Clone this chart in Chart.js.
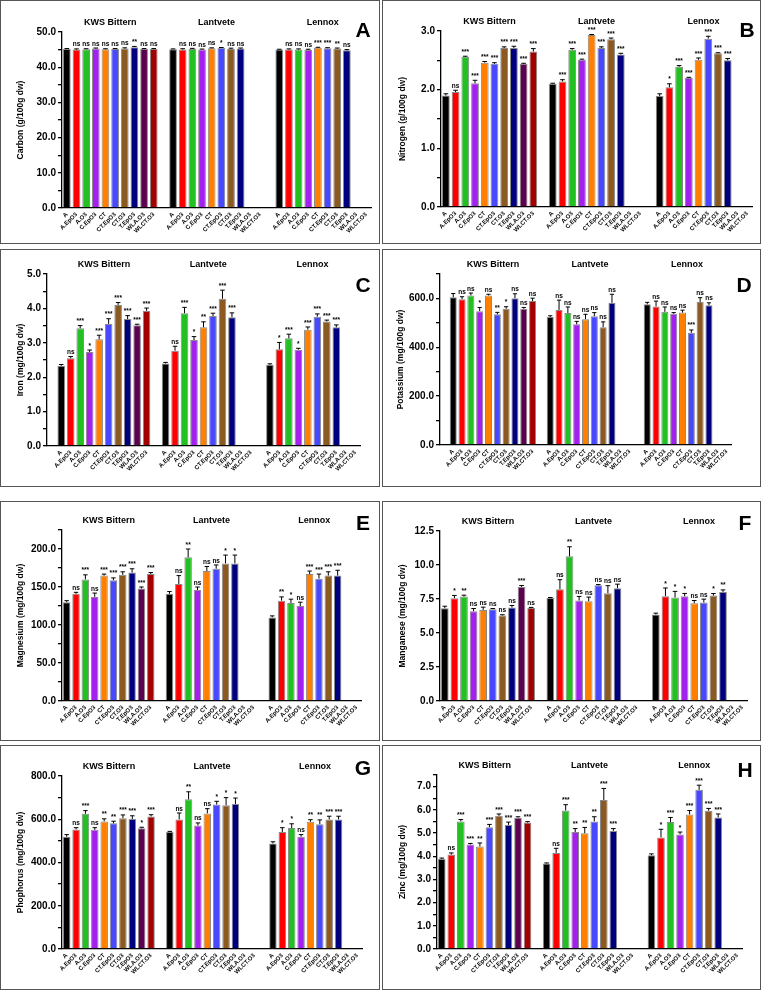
<!DOCTYPE html>
<html>
<head>
<title>Grain nutrients</title>
<script src="https://cdn.jsdelivr.net/npm/chart.js"></script>
<style>
  body { margin: 0; background: #fff; width: 762px; height: 991px; position: relative; overflow: hidden; }
  canvas { position: absolute; }
  .frame { position: absolute; box-sizing: border-box; border: 1.5px solid #555; }
  .letter { position: absolute; font: bold 21px "Liberation Sans", Arial, sans-serif; transform: translate(-50%, -50%); color: #000; }
</style>
</head>
<body>
<script>
// categories
const groups = ['KWS Bittern', 'Lantvete', 'Lennox'];
const treatments = ['A', 'A.EpO3', 'A.O3', 'C.EpO3', 'CT', 'CT.EpO3', 'CT.O3', 'T.EpO3', 'WLA.O3', 'WLCT.O3'];
const colors = ['#000000', '#ff0000', '#22c022', '#a321ef', '#ff8000', '#4848ff', '#8c5a20', '#00007f', '#5c0050', '#a30000'];

// A - Carbon (g/100g dw)
const carbonMean = [[45.2, 45.0, 45.1, 45.3, 45.1, 45.2, 45.3, 45.7, 45.2, 45.2], [45.1, 45.0, 45.2, 45.0, 45.4, 45.5, 45.2, 45.3], [45.0, 45.0, 45.0, 44.9, 45.5, 45.4, 45.3, 44.8]];
const carbonErr = [[0.1, 0.2, 0.15, 0.15, 0.15, 0.1, 0.2, 0.2, 0.1, 0.1], [0.1, 0.25, 0.15, 0.15, 0.1, 0.1, 0.2, 0.15], [0.1, 0.2, 0.2, 0.2, 0.15, 0.15, 0.15, 0.2]];
const carbonSig = [['', 'ns', 'ns', 'ns', 'ns', 'ns', 'ns', '**', 'ns', 'ns'], ['', 'ns', 'ns', 'ns', 'ns', '*', 'ns', 'ns'], ['', 'ns', 'ns', 'ns', '***', '***', '**', 'ns']];

// B - Nitrogen
const nitrogenMean = [[1.90, 1.96, 2.56, 2.11, 2.46, 2.44, 2.71, 2.71, 2.44, 2.65], [2.10, 2.14, 2.68, 2.51, 2.93, 2.71, 2.86, 2.60], [1.89, 2.04, 2.39, 2.20, 2.51, 2.87, 2.62, 2.50]];
const nitrogenErr = [[0.03, 0.03, 0.01, 0.05, 0.02, 0.02, 0.02, 0.03, 0.01, 0.05], [0.01, 0.03, 0.02, 0.01, 0.01, 0.02, 0.02, 0.02], [0.04, 0.06, 0.02, 0.01, 0.03, 0.04, 0.01, 0.03]];
const nitrogenSig = [['', 'ns', '***', '***', '***', '***', '***', '***', '***', '***'], ['', '***', '***', '***', '***', '***', '***', '***'], ['', '*', '***', '***', '***', '***', '***', '***']];

// C - Iron
const ironMean = [[2.33, 2.55, 3.42, 2.73, 3.10, 3.55, 4.10, 3.69, 3.51, 3.93], [2.40, 2.77, 3.86, 3.08, 3.45, 3.78, 4.28, 3.74], [2.36, 2.81, 3.13, 2.80, 3.38, 3.76, 3.62, 3.45]];
const ironErr = [[0.04, 0.05, 0.08, 0.06, 0.12, 0.15, 0.07, 0.10, 0.03, 0.08], [0.03, 0.13, 0.17, 0.10, 0.16, 0.08, 0.25, 0.13], [0.03, 0.20, 0.12, 0.04, 0.08, 0.08, 0.04, 0.07]];
const ironSig = [['', 'ns', '***', '*', '***', '***', '***', '***', '***', '***'], ['', 'ns', '***', '*', '**', '***', '***', '***'], ['', '*', '***', '*', '***', '***', '***', '***']];

// D - Potassium
const potassiumMean = [[605, 597, 612, 548, 612, 535, 558, 601, 558, 589], [524, 553, 540, 494, 515, 527, 482, 582], [576, 567, 545, 537, 542, 459, 585, 572]];
const potassiumErr = [[15, 10, 10, 15, 5, 8, 8, 18, 5, 12], [5, 40, 25, 12, 20, 15, 22, 35], [8, 22, 20, 5, 10, 12, 18, 10]];
const potassiumSig = [['', 'ns', 'ns', '*', 'ns', '**', '*', 'ns', 'ns', 'ns'], ['', 'ns', 'ns', 'ns', 'ns', 'ns', 'ns', 'ns'], ['', 'ns', 'ns', 'ns', 'ns', '***', 'ns', 'ns']];

// E - Magnesium
const magnesiumMean = [[130, 141, 160, 137, 165, 159, 166, 169, 148, 167], [141, 154, 189, 146, 171, 174, 181, 181], [110, 132, 129, 125, 167, 161, 165, 165]];
const magnesiumErr = [[2, 2, 6, 5, 2, 3, 4, 5, 2, 2], [3, 11, 11, 4, 6, 5, 11, 11], [2, 5, 5, 5, 4, 6, 5, 7]];
const magnesiumSig = [['', 'ns', '***', 'ns', '***', '***', '***', '***', '***', '***'], ['', 'ns', '**', 'ns', 'ns', 'ns', '*', '*'], ['', '**', '*', 'ns', '***', '***', '***', '***']];

// F - Manganese
const manganeseMean = [[6.82, 7.56, 7.68, 6.60, 6.70, 6.75, 6.29, 6.87, 8.39, 6.83], [7.58, 8.22, 10.64, 7.39, 7.34, 8.51, 7.93, 8.29], [6.36, 7.71, 7.61, 7.71, 7.19, 7.24, 7.75, 8.02]];
const manganeseErr = [[0.15, 0.2, 0.1, 0.2, 0.2, 0.05, 0.05, 0.15, 0.1, 0.05], [0.03, 0.7, 0.7, 0.3, 0.3, 0.05, 0.55, 0.3], [0.1, 0.6, 0.45, 0.2, 0.2, 0.25, 0.15, 0.15]];
const manganeseSig = [['', '*', '**', 'ns', 'ns', 'ns', 'ns', 'ns', '***', 'ns'], ['', 'ns', '**', 'ns', 'ns', 'ns', 'ns', 'ns'], ['', '*', '*', '*', 'ns', 'ns', '*', '**']];

// G - Phosphorus
const phosphorusMean = [[519, 553, 625, 551, 590, 581, 605, 601, 558, 613], [541, 599, 692, 571, 627, 668, 665, 670], [488, 541, 559, 519, 588, 577, 599, 599]];
const phosphorusErr = [[10, 8, 15, 10, 12, 10, 15, 15, 5, 8], [3, 30, 35, 12, 22, 15, 35, 28], [8, 20, 20, 10, 10, 20, 15, 15]];
const phosphorusSig = [['', 'ns', '***', 'ns', '**', '**', '***', '***', '*', '***'], ['', 'ns', '**', 'ns', 'ns', '*', '*', '*'], ['', '*', '*', 'ns', '**', '**', '***', '***']];

// H - Zinc
const zincMean = [[3.88, 4.07, 5.50, 4.50, 4.42, 5.25, 5.74, 5.35, 5.66, 5.45], [3.69, 4.14, 5.97, 5.04, 4.99, 5.50, 6.42, 5.09], [4.04, 4.81, 5.47, 4.94, 5.80, 6.86, 5.96, 5.67]];
const zincErr = [[0.04, 0.07, 0.08, 0.05, 0.15, 0.12, 0.08, 0.12, 0.04, 0.04], [0.02, 0.2, 0.25, 0.15, 0.25, 0.2, 0.5, 0.1], [0.06, 0.35, 0.2, 0.1, 0.17, 0.2, 0.1, 0.15]];
const zincSig = [['', 'ns', '***', '***', '**', '***', '***', '***', '***', '***'], ['', 'ns', '***', '**', '**', '**', '***', '***'], ['', '*', '***', '*', '***', '***', '***', '***']];

Chart.defaults.font.family = '"Liberation Sans", Arial, sans-serif';
Chart.defaults.color = '#000';

// error bars, significance marks and cultivar names
const extras = {
    id: 'extras',
    afterDatasetsDraw(chart, args, o) {
        const { ctx, scales: { x, y } } = chart;
        const meta = chart.getDatasetMeta(0);
        const vals = chart.data.datasets[0].data;
        ctx.save();
        ctx.strokeStyle = '#000';
        ctx.fillStyle = '#000';
        ctx.lineWidth = 1;
        ctx.textAlign = 'center';
        ctx.textBaseline = 'bottom';
        ctx.font = 'bold 6.5px "Liberation Sans", Arial, sans-serif';
        vals.forEach((v, i) => {
            if (v == null) return;
            const bar = meta.data[i];
            const hw = bar.width * 0.3;
            const y0 = y.getPixelForValue(v);
            const y1 = y.getPixelForValue(v + o.err[i]);
            ctx.beginPath();
            ctx.moveTo(bar.x, y0);
            ctx.lineTo(bar.x, y1);
            ctx.moveTo(bar.x - hw, y1);
            ctx.lineTo(bar.x + hw, y1);
            ctx.stroke();
            if (o.sig[i]) ctx.fillText(o.sig[i], bar.x, y1 - 1);
        });
        ctx.font = 'bold 9px "Liberation Sans", Arial, sans-serif';
        ctx.textBaseline = 'middle';
        o.starts.forEach((s, gi) => {
            const cx = (x.getPixelForValue(s) + x.getPixelForValue(s + 9)) / 2;
            ctx.fillText(groups[gi], cx, chart.chartArea.top - 9);
        });
        ctx.restore();
    }
};

function makeChart(p) {
    const cv = document.createElement('canvas');
    cv.width = p.w;
    cv.height = p.h;
    cv.style.left = p.x + 'px';
    cv.style.top = p.y + 'px';
    document.body.appendChild(cv);

    const labels = [], values = [], errs = [], sigs = [], cols = [], starts = [];
    const blank = () => { labels.push(''); values.push(null); errs.push(null); sigs.push(''); cols.push('#fff'); };
    if (p.lead) blank();
    groups.forEach((g, gi) => {
        if (gi > 0) blank();
        starts.push(labels.length);
        treatments.forEach((t, ti) => {
            const v = p.mean[gi][ti];
            labels.push(t);
            values.push(v === undefined ? null : v);
            errs.push(p.err[gi][ti] || 0);
            sigs.push(p.sig[gi][ti] || '');
            cols.push(colors[ti]);
        });
    });

    const isMajor = v => Math.abs(v / p.major - Math.round(v / p.major)) < 1e-6;

    new Chart(cv, {
        type: 'bar',
        data: {
            labels: labels,
            datasets: [{
                data: values,
                backgroundColor: cols,
                borderColor: '#8a8a8a',
                borderWidth: 1,
                barPercentage: 0.8,
                categoryPercentage: 1
            }]
        },
        options: {
            responsive: false,
            animation: false,
            devicePixelRatio: 1,
            layout: { padding: { left: 0, top: p.top, right: p.pr, bottom: 0 } },
            plugins: {
                legend: { display: false },
                tooltip: { enabled: false },
                extras: { err: errs, sig: sigs, starts: starts }
            },
            scales: {
                x: {
                    afterFit: s => { s.height = p.xh; },
                    grid: { display: false, drawTicks: false },
                    border: { color: '#000', width: 1.3 },
                    ticks: { autoSkip: false, minRotation: 45, maxRotation: 45, padding: 3, font: { size: 6, weight: 'bold' } }
                },
                y: {
                    min: 0,
                    max: p.max,
                    afterFit: s => { s.width = p.yw; },
                    border: { color: '#000', width: 1.3 },
                    grid: { drawOnChartArea: false, color: '#000', lineWidth: 1.3, tickLength: 4 },
                    ticks: {
                        stepSize: p.step,
                        maxTicksLimit: 30,
                        autoSkip: false,
                        padding: 2,
                        font: { size: 10, weight: 'bold' },
                        callback: v => isMajor(v) ? v.toFixed(1) : ''
                    },
                    title: { display: true, text: p.title, font: { size: 8.5, weight: 'bold' }, padding: { top: p.tp, bottom: 0 } }
                }
            }
        },
        plugins: [extras]
    });

    const fr = document.createElement('div');
    fr.className = 'frame';
    fr.style.left = p.fx + 'px';
    fr.style.top = p.y + 'px';
    fr.style.width = p.fw + 'px';
    fr.style.height = p.h + 'px';
    document.body.appendChild(fr);

    const lt = document.createElement('div');
    lt.className = 'letter';
    lt.textContent = p.letter;
    lt.style.left = p.lx + 'px';
    lt.style.top = p.ly + 'px';
    document.body.appendChild(lt);
}

makeChart({ letter: 'A', title: 'Carbon (g/100g dw)', mean: carbonMean, err: carbonErr, sig: carbonSig, max: 50, step: 5, major: 10,
    x: 0, y: 0, w: 380, h: 244, fx: 0, fw: 380, yw: 62, top: 32, xh: 36, pr: 9, tp: 16, lx: 363, ly: 30 });
makeChart({ letter: 'B', title: 'Nitrogen (g/100g dw)', mean: nitrogenMean, err: nitrogenErr, sig: nitrogenSig, max: 3, step: 0.5, major: 1,
    x: 382, y: 0, w: 378, h: 244, fx: 381.5, fw: 379.5, yw: 59, top: 31, xh: 37, pr: 8, tp: 16, lx: 747, ly: 30 });
makeChart({ letter: 'C', title: 'Iron (mg/100g dw)', mean: ironMean, err: ironErr, sig: ironSig, max: 5, step: 0.5, major: 1, lead: true,
    x: 0, y: 249, w: 380, h: 238, fx: 0, fw: 380, yw: 47, top: 25, xh: 41, pr: 20, tp: 16, lx: 363, ly: 285 });
makeChart({ letter: 'D', title: 'Potassium (mg/100g dw)', mean: potassiumMean, err: potassiumErr, sig: potassiumSig, max: 700, step: 100, major: 200, lead: true,
    x: 382, y: 249, w: 378, h: 238, fx: 381.5, fw: 379.5, yw: 58, top: 25, xh: 42, pr: 29, tp: 13.5, lx: 744, ly: 285 });
makeChart({ letter: 'E', title: 'Magnesium (mg/100g dw)', mean: magnesiumMean, err: magnesiumErr, sig: magnesiumSig, max: 225, step: 25, major: 50,
    x: 0, y: 501, w: 380, h: 240, fx: 0, fw: 380, yw: 62, top: 29, xh: 40, pr: 19, tp: 16, lx: 363, ly: 523 });
makeChart({ letter: 'F', title: 'Manganese (mg/100g dw)', mean: manganeseMean, err: manganeseErr, sig: manganeseSig, max: 12.5, step: 2.5, major: 2.5,
    x: 382, y: 501, w: 378, h: 240, fx: 381.5, fw: 379.5, yw: 58, top: 30, xh: 40, pr: 13, tp: 15.5, lx: 745, ly: 523 });
makeChart({ letter: 'G', title: 'Phophorus (mg/100g dw)', mean: phosphorusMean, err: phosphorusErr, sig: phosphorusSig, max: 800, step: 100, major: 200,
    x: 0, y: 745, w: 380, h: 245, fx: 0, fw: 380, yw: 62, top: 31, xh: 41, pr: 18, tp: 16, lx: 363, ly: 768 });
makeChart({ letter: 'H', title: 'Zinc (mg/100g dw)', mean: zincMean, err: zincErr, sig: zincSig, max: 7.5, step: 0.5, major: 1,
    x: 382, y: 745, w: 378, h: 245, fx: 381.5, fw: 379.5, yw: 55, top: 30, xh: 41, pr: 18, tp: 15.5, lx: 745, ly: 770 });
</script>
</body>
</html>
